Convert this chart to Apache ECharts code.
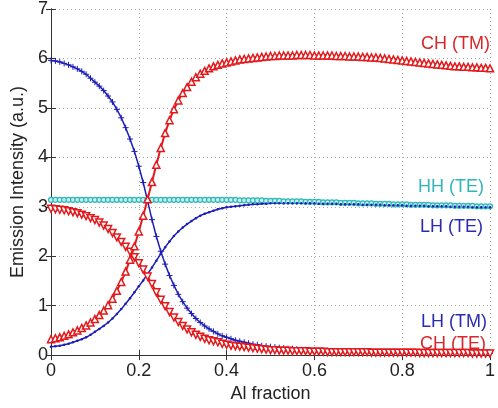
<!DOCTYPE html>
<html>
<head>
<meta charset="utf-8">
<script src="https://cdn.jsdelivr.net/npm/echarts@6/dist/echarts.min.js"></script>
<style>html,body{margin:0;padding:0;background:#fff}#c{width:498px;height:408px}</style>
</head>
<body>
<div id="c"></div>
<script>
const xs = [0,0.01,0.02,0.03,0.04,0.05,0.06,0.07,0.08,0.09,0.1,0.11,0.12,0.13,0.14,0.15,0.16,0.17,0.18,0.19,0.2,0.21,0.22,0.23,0.24,0.25,0.26,0.27,0.28,0.29,0.3,0.31,0.32,0.33,0.34,0.35,0.36,0.37,0.38,0.39,0.4,0.41,0.42,0.43,0.44,0.45,0.46,0.47,0.48,0.49,0.5,0.51,0.52,0.53,0.54,0.55,0.56,0.57,0.58,0.59,0.6,0.61,0.62,0.63,0.64,0.65,0.66,0.67,0.68,0.69,0.7,0.71,0.72,0.73,0.74,0.75,0.76,0.77,0.78,0.79,0.8,0.81,0.82,0.83,0.84,0.85,0.86,0.87,0.88,0.89,0.9,0.91,0.92,0.93,0.94,0.95,0.96,0.97,0.98,0.99,1];

const lhTM = [5.96,5.95,5.93,5.90,5.87,5.83,5.79,5.74,5.68,5.60,5.52,5.44,5.35,5.24,5.12,4.97,4.80,4.60,4.37,4.12,3.82,3.49,3.12,2.74,2.40,2.10,1.84,1.61,1.41,1.23,1.08,0.95,0.84,0.74,0.66,0.59,0.53,0.48,0.43,0.39,0.36,0.33,0.30,0.28,0.26,0.24,0.22,0.21,0.19,0.18,0.17,0.16,0.15,0.14,0.13,0.13,0.12,0.11,0.11,0.10,0.10,0.09,0.09,0.09,0.08,0.08,0.08,0.07,0.07,0.07,0.07,0.06,0.06,0.06,0.06,0.06,0.06,0.06,0.05,0.05,0.05,0.05,0.05,0.05,0.05,0.05,0.05,0.05,0.05,0.05,0.05,0.04,0.04,0.04,0.04,0.04,0.04,0.04,0.04,0.04,0.04];

const chTE = [2.96,2.95,2.94,2.93,2.91,2.89,2.87,2.84,2.81,2.77,2.73,2.68,2.62,2.55,2.47,2.38,2.29,2.19,2.09,1.98,1.86,1.73,1.59,1.44,1.27,1.12,0.99,0.87,0.76,0.67,0.59,0.52,0.46,0.41,0.37,0.33,0.30,0.28,0.26,0.23,0.21,0.19,0.18,0.17,0.16,0.15,0.14,0.13,0.12,0.11,0.10,0.10,0.09,0.09,0.09,0.08,0.08,0.08,0.08,0.07,0.07,0.07,0.07,0.06,0.06,0.06,0.06,0.06,0.06,0.06,0.06,0.06,0.06,0.05,0.05,0.05,0.05,0.05,0.05,0.05,0.05,0.05,0.05,0.05,0.04,0.04,0.04,0.04,0.04,0.04,0.04,0.04,0.04,0.04,0.04,0.04,0.03,0.03,0.03,0.03,0.03];

const chTM = [0.32,0.34,0.36,0.39,0.42,0.46,0.50,0.55,0.60,0.66,0.73,0.81,0.90,1.01,1.14,1.30,1.48,1.69,1.93,2.20,2.50,2.82,3.15,3.50,3.85,4.19,4.49,4.75,4.97,5.15,5.30,5.42,5.53,5.62,5.69,5.75,5.80,5.84,5.87,5.90,5.92,5.94,5.96,5.98,5.99,6.00,6.01,6.02,6.03,6.04,6.05,6.05,6.06,6.06,6.06,6.06,6.07,6.07,6.07,6.07,6.06,6.06,6.06,6.06,6.06,6.05,6.05,6.05,6.04,6.04,6.04,6.03,6.03,6.02,6.02,6.01,6.00,5.99,5.98,5.97,5.96,5.95,5.94,5.93,5.92,5.91,5.90,5.89,5.88,5.87,5.86,5.85,5.84,5.84,5.83,5.83,5.82,5.82,5.81,5.81,5.80];

const hhTE = [3.14,3.14,3.14,3.14,3.14,3.14,3.14,3.14,3.14,3.14,3.14,3.14,3.14,3.14,3.14,3.14,3.14,3.14,3.14,3.14,3.14,3.14,3.14,3.14,3.14,3.14,3.14,3.14,3.14,3.14,3.14,3.14,3.14,3.14,3.14,3.14,3.14,3.14,3.14,3.14,3.14,3.14,3.14,3.13,3.13,3.13,3.13,3.13,3.13,3.12,3.12,3.12,3.12,3.11,3.11,3.11,3.11,3.11,3.10,3.10,3.10,3.10,3.09,3.09,3.09,3.09,3.08,3.08,3.08,3.08,3.07,3.07,3.07,3.07,3.06,3.06,3.06,3.06,3.05,3.05,3.05,3.05,3.04,3.04,3.04,3.04,3.04,3.03,3.03,3.03,3.03,3.03,3.02,3.02,3.02,3.02,3.02,3.01,3.01,3.01,3.01];

const lhTE = [0.17,0.18,0.19,0.21,0.23,0.26,0.29,0.32,0.36,0.41,0.47,0.53,0.59,0.66,0.74,0.83,0.93,1.04,1.15,1.27,1.39,1.51,1.64,1.77,1.91,2.05,2.18,2.30,2.41,2.50,2.58,2.65,2.71,2.77,2.82,2.86,2.89,2.92,2.95,2.97,2.99,3.00,3.01,3.02,3.03,3.04,3.05,3.05,3.06,3.06,3.07,3.07,3.07,3.07,3.07,3.07,3.07,3.07,3.07,3.07,3.07,3.06,3.06,3.06,3.06,3.06,3.05,3.05,3.05,3.05,3.05,3.04,3.04,3.04,3.04,3.04,3.03,3.03,3.03,3.03,3.03,3.02,3.02,3.02,3.02,3.02,3.01,3.01,3.01,3.01,3.01,3.00,3.00,3.00,3.00,3.00,2.99,2.99,2.99,2.99,2.99];

const xTicks = ['0','0.2','0.4','0.6','0.8','1'];
const curveNames = ['LH (TM)','LH (TE)','HH (TE)','CH (TM)','CH (TE)'];

const RED = '#e3191c';
const BLUE = '#1c1cb8';
const CYAN = '#2cb8b8';
const FONT = 'Liberation Sans';

function pairs(ys){ return xs.map((x,i)=>[x, ys[i]]); }

const chart = echarts.init(document.getElementById('c'), null, {renderer:'canvas'});
const axisCommon = {
  axisLine:{show:true, lineStyle:{color:'#333', width:1}},
  axisTick:{show:true, inside:true, length:5, lineStyle:{color:'#333'}},
};
chart.setOption({
  animation:false,
  backgroundColor:'#fff',
  grid:{left:51, right:1, top:7, bottom:46, containLabel:false},
  xAxis:[{
    type:'value', min:0, max:1, interval:0.2, position:'bottom',
    name:'Al fraction', nameLocation:'middle', nameGap:22,
    nameTextStyle:{fontFamily:FONT, fontSize:18, color:'#222'},
    ...axisCommon,
    axisLabel:{fontFamily:FONT, fontSize:18, color:'#222', margin:7,
      formatter:(v)=>xTicks[Math.round(v/0.2)]},
    splitLine:{show:true, lineStyle:{color:'#aaa', type:[1,3], width:1}}
  },{
    type:'value', min:0, max:1, interval:0.2, position:'top',
    ...axisCommon, axisLabel:{show:false}, splitLine:{show:false}
  }],
  yAxis:[{
    type:'value', min:0, max:7, interval:1, position:'left',
    name:'Emission Intensity (a.u.)', nameLocation:'middle', nameGap:16,
    nameTextStyle:{fontFamily:FONT, fontSize:18, color:'#222'},
    ...axisCommon,
    axisLabel:{fontFamily:FONT, fontSize:18, color:'#222', margin:3},
    splitLine:{show:true, lineStyle:{color:'#aaa', type:[1,3], width:1}}
  },{
    type:'value', min:0, max:7, interval:1, position:'right',
    ...axisCommon, axisLabel:{show:false}, splitLine:{show:false}
  }],
  series:[
    {name:curveNames[2], type:'line', data:pairs(hhTE), symbol:'circle', symbolSize:5,
      lineStyle:{color:CYAN, width:1.5}, itemStyle:{color:'#c8eeee', borderColor:CYAN, borderWidth:1.2}},
    {name:curveNames[1], type:'line', data:pairs(lhTE), symbol:'circle', symbolSize:2.5,
      lineStyle:{color:BLUE, width:1.5}, itemStyle:{color:BLUE}},
    {name:curveNames[0], type:'line', data:pairs(lhTM), symbol:'path://M0,5L10,5M5,0L5,10', symbolSize:6,
      lineStyle:{color:BLUE, width:1.5}, itemStyle:{color:'none', borderColor:BLUE, borderWidth:1}},
    {name:curveNames[4], type:'line', data:pairs(chTE), symbol:'triangle', symbolRotate:180, symbolSize:7,
      lineStyle:{color:RED, width:2}, itemStyle:{color:'#fff', borderColor:RED, borderWidth:1.5}},
    {name:curveNames[3], type:'line', data:pairs(chTM), symbol:'triangle', symbolSize:7,
      lineStyle:{color:RED, width:2}, itemStyle:{color:'#fff', borderColor:RED, borderWidth:1.5}}
  ],
  graphic:[
    {type:'text', right:8, top:35, style:{text:curveNames[3], fill:'#d8262b', font:'18px '+FONT}},
    {type:'text', right:14, top:178, style:{text:curveNames[2], fill:'#33b5b5', font:'18px '+FONT}},
    {type:'text', right:15, top:218, style:{text:curveNames[1], fill:'#2b2bb0', font:'18px '+FONT}},
    {type:'text', right:11, top:313, style:{text:curveNames[0], fill:'#2b2bb0', font:'18px '+FONT}},
    {type:'text', right:12, top:335, style:{text:curveNames[4], fill:'#d8262b', font:'18px '+FONT}}
  ]
});
</script>
</body>
</html>
